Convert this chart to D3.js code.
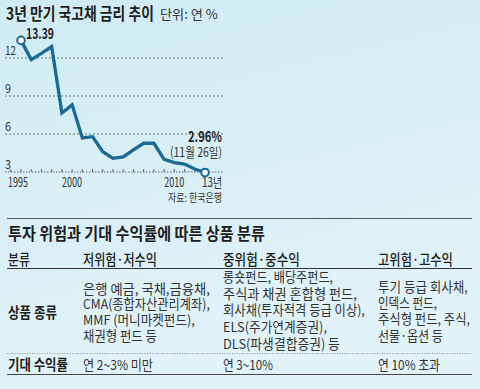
<!DOCTYPE html>
<html><head><meta charset="utf-8">
<script src="https://cdn.jsdelivr.net/npm/d3@7"></script>
<style>
html,body{margin:0;padding:0;background:#d6eff5;}
svg{display:block;}
text{font-family:"Noto Sans CJK KR","Noto Sans",sans-serif;}
</style>
</head><body>
<svg id="c" width="480" height="389"></svg>
<script>
// ---------- DATA ----------
const years = [1995,1996,1997,1998,1999,2000,2001,2002,2003,2004,2005,2006,2007,2008,2009,2010,2011,2012,2013];
const rates = [13.39,11.87,12.37,12.90,7.66,8.30,5.69,5.79,4.60,4.08,4.20,4.74,5.27,5.27,4.00,3.74,3.63,3.24,2.96];
const yTicks = [3,6,9,12];
const xTickYears = [1995,2000,2010,2013];
const xTickLabels = ["1995","2000","2010","13년"];
const chartTitle = "3년 만기 국고채 금리 추이";
const unitLabel = "단위: 연 %";
const firstLabel = "13.39";
const lastLabel = "2.96%";
const lastDate = "(11월 26일)";
const sourceLabel = "자료: 한국은행";

const tableTitle = "투자 위험과 기대 수익률에 따른 상품 분류";
const tableHeaders = ["분류","저위험·저수익","중위험·중수익","고위험·고수익"];
const rowLabels = ["상품 종류","기대 수익률"];
const products = [
  ["은행 예금, 국채,금융채,","CMA(종합자산관리계좌),","MMF (머니마켓펀드),","채권형 펀드 등"],
  ["롱숏펀드, 배당주펀드,","주식과 채권 혼합형 펀드,","회사채(투자적격 등급 이상),","ELS(주가연계증권),","DLS(파생결합증권) 등"],
  ["투기 등급 회사채,","인덱스 펀드,","주식형 펀드, 주식,","선물·옵션 등"]
];
const expectedReturns = ["연 2~3% 미만","연 3~10%","연 10% 초과"];

// ---------- LAYOUT (positions / sizes) ----------
const W = 480, H = 389;
const svg = d3.select("#c");
const defs = svg.append("defs");
const grad = defs.append("linearGradient").attr("id","bg").attr("x1",0).attr("y1",0).attr("x2",0.3).attr("y2",1);
grad.append("stop").attr("offset","0%").attr("stop-color","#cfebf3");
grad.append("stop").attr("offset","100%").attr("stop-color","#e2f3f8");
svg.append("rect").attr("width",W).attr("height",H).attr("fill","url(#bg)");

// text helper: fits the text to width w by horizontal scaling
function txt(g, x, y, s, o){
  o = o||{};
  const t = g.append("text").attr("x",0).attr("y",0).text(s)
    .attr("font-size",o.size||13).attr("font-weight",o.weight||400)
    .attr("fill",o.fill||"#2a2a2a").attr("text-anchor",o.anchor||"start");
  let k = 1;
  if(o.w){ const nat = t.node().getComputedTextLength(); if(nat>0) k = o.w/nat; }
  t.attr("transform",`translate(${x},${y}) scale(${k},1)`);
  return t;
}

// chart
const x = d3.scaleLinear().domain([1995,2013]).range([21,205]);
const y = d3.scaleLinear().domain([3,12]).range([172,58]);
const gx0 = 5, gx1 = 223;
const cg = svg.append("g");

txt(cg, 6, 20, chartTitle, {size:17, weight:700, fill:"#1e1e1e", w:148});
txt(cg, 160, 19, unitLabel, {size:13, fill:"#333", w:58});

// gridlines
cg.selectAll("line.grid").data(yTicks).join("line")
  .attr("x1",gx0).attr("x2",gx1).attr("y1",d=>y(d)).attr("y2",d=>y(d))
  .attr("stroke",d=>d===3?"#444":"#555").attr("stroke-width",0.8)
  .attr("stroke-dasharray",d=>d===3?"1.5,1.5":"2,2");
yTicks.forEach(v=>txt(cg, 5, y(v)-3, String(v), {size:12, fill:"#333", w: v>=10?11:6}));

// axis ticks at each year
const tickYears = d3.range(1994,2014);
cg.selectAll("line.tk").data(tickYears).join("line")
  .attr("x1",d=>x(d)).attr("x2",d=>x(d)).attr("y1",y(3)).attr("y2",y(3)-3)
  .attr("stroke","#444").attr("stroke-width",0.8);

// x labels
xTickLabels.forEach((lab,i)=>{
  const last = i===xTickLabels.length-1;
  const w = 20;
  const cx = last ? x(xTickYears[i])-3 + w/2 : x(xTickYears[i]) - (i===0?3:0);
  txt(cg, cx - w/2, 187, lab, {size:13, fill:"#333", w:w});
});

// line
const line = d3.line().x((d,i)=>x(years[i])).y(d=>y(d));
cg.append("path").datum(rates).attr("d",line)
  .attr("fill","none").attr("stroke","#1a6a93").attr("stroke-width",3.3)
  .attr("stroke-linejoin","miter");
[0, rates.length-1].forEach(i=>{
  cg.append("circle").attr("cx",x(years[i])).attr("cy",y(rates[i])).attr("r",3.8)
    .attr("fill","#fff").attr("stroke","#1a6a93").attr("stroke-width",2);
});
txt(cg, x(years[0])+5, y(rates[0])-1, firstLabel, {size:15, weight:700, fill:"#1e1e1e", w:28});
txt(cg, 188, 142, lastLabel, {size:15, weight:700, fill:"#1e1e1e", w:34});
txt(cg, 170, 157, lastDate, {size:13, fill:"#333", w:52});
txt(cg, 168, 202, sourceLabel, {size:11, fill:"#333", w:54});

// ---------- TABLE ----------
const tg = svg.append("g");
const tx0 = 7, tx1 = 472;
const colX = [8, 83, 223, 378];
tg.append("line").attr("x1",tx0).attr("x2",tx1).attr("y1",218.5).attr("y2",218.5).attr("stroke","#555").attr("stroke-width",1);
txt(tg, 8, 240, tableTitle, {size:17, weight:700, fill:"#1e1e1e", w:257});

const headW = [22,74,77,75];
tableHeaders.forEach((h,i)=>txt(tg, colX[i], 265, h, {size:14.5, fill:"#1e1e1e", weight:500, w:headW[i]}));
tg.append("line").attr("x1",tx0).attr("x2",tx1).attr("y1",268.5).attr("y2",268.5).attr("stroke","#333").attr("stroke-width",1);

txt(tg, 8, 318, rowLabels[0], {size:14.5, weight:700, fill:"#1e1e1e", w:49});
const prodW = [[127,127,112,74],[110,134,142,104,117],[90,59,92,65]];
const prodY0 = [293.7, 281.8, 291.7];
const prodDy = [15.7, 16.7, 16.3];
products.forEach((col,ci)=>{
  col.forEach((s,li)=>txt(tg, colX[ci+1], prodY0[ci]+li*prodDy[ci], s, {size:13.5, fill:"#333", w:prodW[ci][li]}));
});

tg.append("line").attr("x1",tx0).attr("x2",tx1).attr("y1",353.5).attr("y2",353.5)
  .attr("stroke","#777").attr("stroke-width",0.8).attr("stroke-dasharray","1,1.5");
txt(tg, 8, 370, rowLabels[1], {size:14.5, weight:700, fill:"#1e1e1e", w:60});
const retW = [70,50,62];
expectedReturns.forEach((s,i)=>txt(tg, colX[i+1], 370, s, {size:13.5, fill:"#333", w:retW[i]}));
tg.append("line").attr("x1",tx0).attr("x2",tx1).attr("y1",374.5).attr("y2",374.5).attr("stroke","#444").attr("stroke-width",1);
</script>
</body></html>
